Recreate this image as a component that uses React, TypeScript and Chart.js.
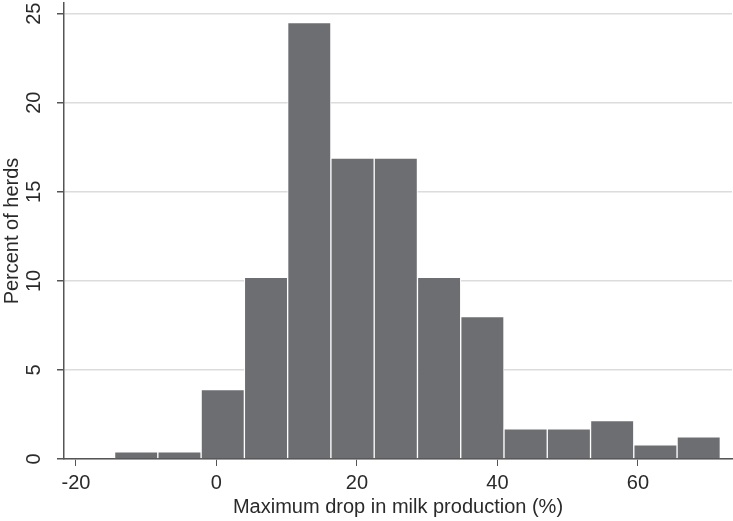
import React, { useEffect, useRef } from "react";
import { Chart, registerables } from "chart.js";

Chart.register(...registerables);

// Histogram bins (Maximum drop in milk production, %)
const binStart = -14.5;
const binWidth = 6.16;
const percentHerds = [0.4, 0.4, 3.9, 10.2, 24.5, 16.9, 16.9, 10.2, 8.0, 1.7, 1.7, 2.15, 0.8, 1.25];
const xTicks = [-20, 0, 20, 40, 60];
const yTicks = [0, 5, 10, 15, 20, 25];
const xTitle = "Maximum drop in milk production (%)";
const yTitle = "Percent of herds";

const FONT_FAMILY = "'Liberation Sans', Arial, Helvetica, sans-serif";
const FONT_SIZE = 20;

// Draws the x tick labels at the x scale's own tick pixels
const xTickLabels = {
  id: "xTickLabels",
  afterDraw(chart: any) {
    const sx = chart.scales.x;
    const ctx = chart.ctx;
    ctx.save();
    ctx.font = `${FONT_SIZE}px ${FONT_FAMILY}`;
    ctx.fillStyle = "#2a2a2a";
    ctx.textAlign = "center";
    ctx.textBaseline = "top";
    sx.ticks.forEach((t: any) => {
      ctx.fillText(String(t.value), sx.getPixelForValue(t.value), sx.top + 14);
    });
    ctx.restore();
  },
};

export default function App() {
  const ref = useRef<HTMLCanvasElement | null>(null);

  useEffect(() => {
    document.body.style.margin = "0";
    if (!ref.current) return;
    const data = percentHerds.map((v, i) => ({ x: binStart + binWidth * (i + 0.5), y: v }));
    const font = { family: FONT_FAMILY, size: FONT_SIZE };
    const chart = new Chart(ref.current, {
      type: "bar",
      data: {
        datasets: [
          {
            data,
            backgroundColor: "#6d6e72",
            borderColor: "#ffffff",
            borderWidth: 1,
            barPercentage: 1,
            categoryPercentage: 1,
          },
        ],
      },
      plugins: [xTickLabels],
      options: {
        animation: false,
        responsive: false,
        layout: { padding: { top: 3, right: 1, left: 0, bottom: 0 } },
        plugins: { legend: { display: false }, tooltip: { enabled: false } },
        scales: {
          x: {
            type: "linear",
            offset: false,
            min: -21.7,
            max: 73.4,
            afterBuildTicks: (s: any) => {
              s.ticks = xTicks.map((v) => ({ value: v }));
            },
            ticks: { display: false, autoSkip: false },
            grid: { offset: false, drawOnChartArea: false, drawTicks: true, tickLength: 7, tickColor: "#555555" },
            border: { color: "#555555", width: 1.5 },
            title: { display: true, text: xTitle, font, color: "#2a2a2a", padding: { top: 0, bottom: 2 } },
            afterFit: (s: any) => {
              s.height = 62;
              s.paddingLeft = 0;
              s.paddingRight = 0;
            },
          },
          y: {
            min: 0,
            max: 25.6,
            afterBuildTicks: (s: any) => {
              s.ticks = yTicks.map((v) => ({ value: v }));
            },
            ticks: {
              font,
              color: "#2a2a2a",
              padding: 11,
              minRotation: 90,
              maxRotation: 90,
              crossAlign: "center",
              autoSkip: false,
              callback: (v: any) => String(v),
            },
            grid: { color: "#dcdcdc", lineWidth: 1.5, tickLength: 7, tickColor: "#555555" },
            border: { color: "#555555", width: 1.5 },
            title: { display: true, text: yTitle, font, color: "#2a2a2a", padding: 0 },
            afterFit: (s: any) => {
              s.width = 64;
              s.paddingTop = 0;
              s.paddingBottom = 0;
            },
          },
        },
      },
    });
    return () => chart.destroy();
  }, []);

  return (
    <div style={{ width: 733, height: 521, background: "#fff" }}>
      <canvas ref={ref} width={733} height={521} style={{ width: 733, height: 521, display: "block" }} />
    </div>
  );
}
